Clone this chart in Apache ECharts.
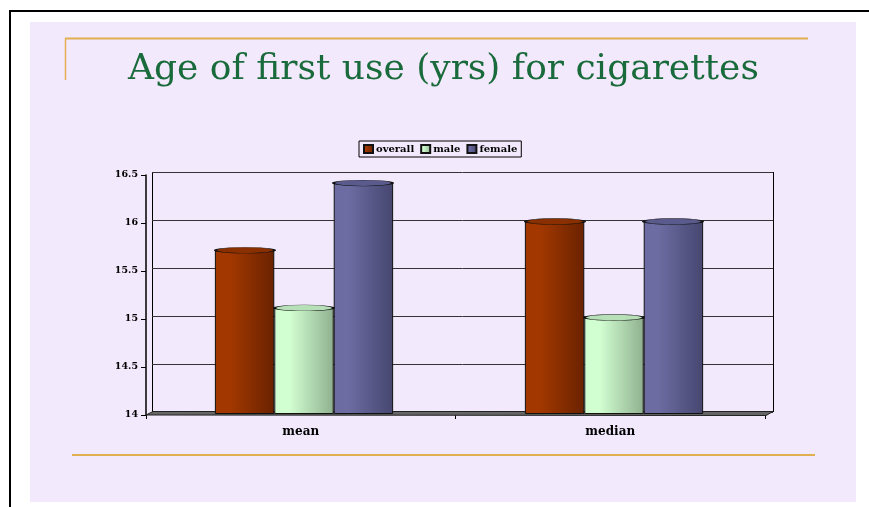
<!DOCTYPE html>
<html><head><meta charset="utf-8">
<script src="https://cdn.jsdelivr.net/npm/echarts@6/dist/echarts.min.js"></script>
<style>html,body{margin:0;padding:0;background:#fff}#c{width:869px;height:507px}</style>
</head><body><div id="c"></div>
<script>
const categories = ['mean', 'median'];
const overall = [15.7, 16.0];
const male = [15.1, 15.0];
const female = [16.4, 16.0];
const seriesNames = ['overall', 'male', 'female'];
const yTicks = [14, 14.5, 15, 15.5, 16, 16.5];

const chart = echarts.init(document.getElementById('c'));
function grad(a, b) {
  return new echarts.graphic.LinearGradient(0, 0, 1, 0, [
    {offset: 0, color: a}, {offset: 0.25, color: a}, {offset: 1, color: b}
  ]);
}
const fills = [grad('#a23800', '#6a2200'), grad('#d2ffd2', '#8fb08f'), grad('#6c6ca2', '#464670')];
const tops = ['#8a3000', '#b8e0b8', '#5a5a8c'];
const font = 'DejaVu Serif';
const data = [overall, male, female];
const BW = 59;
const offsets = [-BW, 0, BW];

const barSeries = seriesNames.map((n, i) => ({
  name: n, type: 'bar', data: data[i],
  xAxisIndex: 2, yAxisIndex: 2,
  barGap: '0%', barCategoryGap: '42.5%',
  itemStyle: {color: fills[i], borderColor: '#111', borderWidth: 1},
  z: 3
}));
const topSeries = seriesNames.map((n, i) => ({
  name: n, type: 'scatter', data: data[i],
  xAxisIndex: 2, yAxisIndex: 2,
  symbol: 'circle', symbolSize: [BW, 6], symbolOffset: [offsets[i], 0],
  itemStyle: {color: tops[i], borderColor: '#111', borderWidth: 1, opacity: 1},
  z: 4, silent: true, legendHoverLink: false
}));

chart.setOption({
  animation: false,
  backgroundColor: '#ffffff',
  color: ['#993300', '#ccffcc', '#666699'],
  graphic: [
    {type: 'rect', shape: {x: 30, y: 22, width: 826, height: 480}, style: {fill: '#f3e9fc'}, z: -10},
    {type: 'line', shape: {x1: 9, y1: 11, x2: 869, y2: 11}, style: {stroke: '#000', lineWidth: 2}},
    {type: 'line', shape: {x1: 10, y1: 11, x2: 10, y2: 507}, style: {stroke: '#000', lineWidth: 2}},
    {type: 'line', shape: {x1: 65, y1: 38.5, x2: 808, y2: 38.5}, style: {stroke: '#e0b050', lineWidth: 2}},
    {type: 'line', shape: {x1: 65.5, y1: 38, x2: 65.5, y2: 80}, style: {stroke: '#e0b050', lineWidth: 1.5}},
    {type: 'line', shape: {x1: 72, y1: 455, x2: 815, y2: 455}, style: {stroke: '#e0b050', lineWidth: 2}},
    {type: 'line', shape: {x1: 152.5, y1: 172, x2: 152.5, y2: 412}, style: {stroke: '#000', lineWidth: 1}},
    {type: 'line', shape: {x1: 773.5, y1: 172, x2: 773.5, y2: 412}, style: {stroke: '#000', lineWidth: 1}},
    {type: 'polygon', shape: {points: [[146, 415], [153, 411.5], [773, 411.5], [766, 415.5]]}, style: {fill: '#666', stroke: '#222', lineWidth: 1}, z: 1}
  ],
  title: {
    text: 'Age of first use (yrs) for cigarettes',
    left: 123, top: 47,
    textStyle: {fontFamily: font, fontSize: 36, fontWeight: 'normal', color: '#1a6b3c'}
  },
  legend: {
    data: seriesNames,
    top: 141, left: 359,
    itemWidth: 9, itemHeight: 8, itemGap: 6,
    borderColor: '#000', borderWidth: 1, padding: [3, 4],
    backgroundColor: '#f3e9fc',
    textStyle: {fontFamily: font, fontSize: 10, fontWeight: 'bold', color: '#000', padding: [0, 0, 0, -2]},
    icon: 'rect'
  },
  grid: [
    {left: 146, right: 104, top: 175, bottom: 92},
    {left: 152, right: 96, top: 172, bottom: 95},
    {left: 149, right: 100, top: 173.5, bottom: 93.5}
  ],
  xAxis: [{
    type: 'category', data: categories, gridIndex: 0,
    axisLine: {show: false},
    axisTick: {show: true, lineStyle: {color: '#000'}, length: 4},
    axisLabel: {fontFamily: font, fontSize: 12, fontWeight: 'bold', color: '#000', margin: 11}
  }, {
    type: 'value', gridIndex: 1, show: false
  }, {
    type: 'category', data: categories, gridIndex: 2, show: false
  }],
  yAxis: [{
    type: 'value', min: 14, max: 16.5, interval: 0.5, gridIndex: 0,
    axisLine: {show: true, lineStyle: {color: '#000', width: 1.5}},
    axisTick: {show: true, length: 5, lineStyle: {color: '#000'}},
    axisLabel: {fontFamily: font, fontSize: 9.5, fontWeight: 'bold', color: '#000', margin: 8,
      formatter: v => yTicks.includes(v) ? String(v) : ''},
    splitLine: {show: false}
  }, {
    type: 'value', min: 14, max: 16.5, interval: 0.5, gridIndex: 1,
    axisLine: {show: false}, axisTick: {show: false}, axisLabel: {show: false},
    splitLine: {show: true, lineStyle: {color: '#333', width: 1}}
  }, {
    type: 'value', min: 14, max: 16.5, interval: 0.5, gridIndex: 2, show: false
  }],
  series: barSeries.concat(topSeries)
});
</script></body></html>
